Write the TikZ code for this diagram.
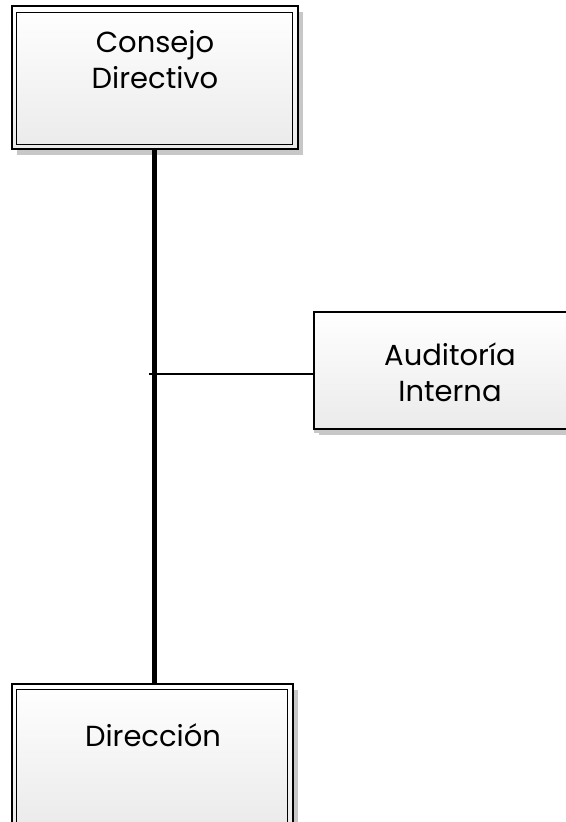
\documentclass[tikz,border=0pt]{standalone}
\usepackage{fontspec}
\setmainfont{Poppins}
\usetikzlibrary{shadows}
\begin{document}
\begin{tikzpicture}[x=1pt,y=1pt,
  box/.style={rectangle, draw=black, line width=1.3pt, inner sep=0pt,
    top color=white, bottom color=black!8,
    drop shadow={shadow xshift=5pt, shadow yshift=-6pt, fill=black!22, opacity=1}},
  inbox/.style={draw=black, line width=0.9pt},
  txt/.style={align=center, font=\fontsize{29}{36}\selectfont, text=black},
  thick line/.style={line width=5pt},
  thin line/.style={line width=2pt}]
\useasboundingbox (0,0) rectangle (565,-822);
% boxes
\node[box, minimum width=286pt, minimum height=143pt] (cd) at (155,-77.5) {};
\draw[inbox] ([shift={(5,-7)}]cd.north west) rectangle ([shift={(-6,5)}]cd.south east);
\node[txt] (cdt) at (155,-60) {Consejo\\Directivo};

\node[box, minimum width=260pt, minimum height=117pt,
  drop shadow={shadow xshift=0pt, shadow yshift=-4pt, fill=black!22, opacity=1}] (aud) at (444,-370.5) {};
\node[txt] (audt) at (450,-372) {Auditoría\\Interna};

\node[box, minimum width=281pt, minimum height=142pt] (dir) at (152.5,-755) {};
\draw[inbox] ([shift={(5,-6)}]dir.north west) rectangle ([shift={(-6,4)}]dir.south east);
\node[txt] (dirt) at (153,-735) {Dirección};

% connectors
\coordinate (top) at (154.5,-149);
\coordinate (bot) at (154.5,-684);
\coordinate (j) at (149,-374);
\draw[thick line] (top) -- (bot);
\draw[thin line] (j) -- (j -| aud.west);
\end{tikzpicture}
\end{document}
